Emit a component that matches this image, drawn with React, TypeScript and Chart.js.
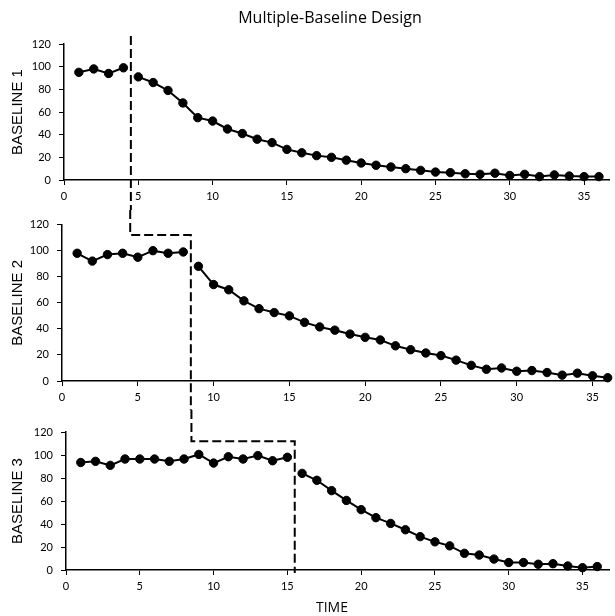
import React, { useEffect, useRef } from "react";
import { Chart, registerables } from "chart.js";

Chart.register(...registerables);

// ---------- data ----------
const chartTitle = "Multiple-Baseline Design";
const xAxisTitle = "TIME";
const panelLabels = ["BASELINE 1", "BASELINE 2", "BASELINE 3"];

const b1BaselineTime = [1, 2, 3, 4];
const b1BaselineValues = [95, 98, 94, 99];
const b1TreatTime = [5, 6, 7, 8, 9, 10, 11, 12, 13, 14, 15, 16, 17, 18, 19, 20, 21, 22, 23, 24, 25, 26, 27, 28, 29, 30, 31, 32, 33, 34, 35, 36];
const b1TreatValues = [91, 86, 79, 68, 55, 52, 45, 41, 36, 33, 27, 24, 21.5, 20, 17.5, 15, 13, 11.5, 10, 8.5, 7, 6.5, 5.5, 5, 6, 4, 5, 3, 4.5, 3.5, 3, 3];

const b2BaselineTime = [1, 2, 3, 4, 5, 6, 7, 8];
const b2BaselineValues = [98, 92, 97, 98, 95, 100, 98, 99];
const b2TreatTime = [9, 10, 11, 12, 13, 14, 15, 16, 17, 18, 19, 20, 21, 22, 23, 24, 25, 26, 27, 28, 29, 30, 31, 32, 33, 34, 35, 36];
const b2TreatValues = [88, 74, 70, 61.5, 55.5, 52.5, 50, 45, 41.5, 39, 36, 33.5, 31.5, 27, 24, 21.5, 19.5, 16, 12, 9, 10, 7.5, 8, 6.5, 4.5, 6, 4, 2.5];

const b3BaselineTime = [1, 2, 3, 4, 5, 6, 7, 8, 9, 10, 11, 12, 13, 14, 15];
const b3BaselineValues = [93.5, 94.5, 91, 96.5, 96.5, 96.5, 94.5, 96.5, 100.5, 93, 98.5, 96.5, 99.5, 95, 98];
const b3TreatTime = [16, 17, 18, 19, 20, 21, 22, 23, 24, 25, 26, 27, 28, 29, 30, 31, 32, 33, 34, 35, 36];
const b3TreatValues = [84, 78, 69, 60.5, 52.5, 45.5, 40.5, 35, 29, 24.5, 21, 14.5, 13, 9.5, 6.5, 6.5, 5, 5.5, 3.5, 2, 3];

const phaseChangeTimes = [4.5, 8.5, 15.5];
const phaseLineTopValue = 127;
const phaseStepValue = 112;

const yTickMin = 0;
const yTickMax = 120;
const yTickStep = 20;
const xTickStep = 5;

const series = [
  { bx: b1BaselineTime, by: b1BaselineValues, tx: b1TreatTime, ty: b1TreatValues },
  { bx: b2BaselineTime, by: b2BaselineValues, tx: b2TreatTime, ty: b2TreatValues },
  { bx: b3BaselineTime, by: b3BaselineValues, tx: b3TreatTime, ty: b3TreatValues },
];

// ---------- layout (not data) ----------
const W = 615;
const panelLayout = [
  { top: 0, height: 210, padTop: 44, axisW: 64, axisH: 30, xMax: 36.73 },
  { top: 210, height: 200, padTop: 13, axisW: 62, axisH: 29, xMax: 36.14 },
  { top: 410, height: 206, padTop: 22, axisW: 66, axisH: 46, xMax: 36.85 },
];

const tickFont = { family: "Lato, 'Open Sans', sans-serif", size: 11 };
const titleFont = { family: "'Liberation Sans', Arial, sans-serif", size: 15 };

function toPoints(xs: number[], ys: number[]) {
  return xs.map((x, i) => ({ x, y: ys[i] }));
}

function Panel({ index }: { index: number }) {
  const ref = useRef<HTMLCanvasElement | null>(null);
  useEffect(() => {
    const lay = panelLayout[index];
    const s = series[index];
    const phasePlugin = {
      id: "phaseLines" + index,
      afterDatasetsDraw(chart: any) {
        const { ctx, scales } = chart;
        const x = scales.x;
        const y = scales.y;
        ctx.save();
        ctx.strokeStyle = "#000";
        ctx.lineWidth = 2;
        ctx.setLineDash([9, 4]);
        ctx.beginPath();
        if (index === 0) {
          const px = x.getPixelForValue(phaseChangeTimes[0]);
          ctx.moveTo(px, y.getPixelForValue(phaseLineTopValue));
          ctx.lineTo(px, chart.height);
        } else {
          const p0 = x.getPixelForValue(phaseChangeTimes[index - 1]);
          const p1 = x.getPixelForValue(phaseChangeTimes[index]);
          const py = y.getPixelForValue(phaseStepValue);
          ctx.moveTo(p0, 0);
          ctx.lineTo(p0, py);
          ctx.lineTo(p1, py);
          ctx.lineTo(p1, index === 2 ? y.getPixelForValue(0) + 3 : chart.height);
        }
        ctx.stroke();
        ctx.restore();
      },
    };
    const dsCommon = {
      borderColor: "#000",
      backgroundColor: "#000",
      borderWidth: 2,
      pointRadius: 4.2,
      pointBorderWidth: 1,
      pointBackgroundColor: "#000",
      pointBorderColor: "#000",
      tension: 0,
      clip: false as any,
    };
    const chart = new Chart(ref.current as HTMLCanvasElement, {
      type: "line",
      data: {
        datasets: [
          { ...dsCommon, label: "baseline", data: toPoints(s.bx, s.by) },
          { ...dsCommon, label: "treatment", data: toPoints(s.tx, s.ty) },
        ],
      },
      options: {
        animation: false,
        responsive: false,
        layout: { padding: { top: lay.padTop, left: 0, right: 0, bottom: 0 } },
        plugins: { legend: { display: false }, tooltip: { enabled: false }, title: { display: false } },
        scales: {
          x: {
            type: "linear",
            min: 0,
            max: lay.xMax,
            afterFit: (sc: any) => {
              sc.height = lay.axisH;
            },
            ticks: { stepSize: xTickStep, includeBounds: false, color: "#000", font: tickFont, padding: 5, maxRotation: 0 },
            grid: { display: true, drawOnChartArea: false, drawTicks: true, tickLength: 5, color: "#000", lineWidth: 1 },
            border: { display: true, color: "#000", width: 1.5 },
          },
          y: {
            type: "linear",
            min: yTickMin,
            max: yTickMax,
            afterFit: (sc: any) => {
              sc.width = lay.axisW;
            },
            ticks: { stepSize: yTickStep, color: "#000", font: tickFont, padding: 8 },
            grid: { display: true, drawOnChartArea: false, drawTicks: true, tickLength: 5, color: "#000", lineWidth: 1 },
            border: { display: true, color: "#000", width: 1.5 },
            title: { display: true, text: panelLabels[index], color: "#000", font: titleFont, padding: { top: 9, bottom: 0 } },
          },
        },
      } as any,
      plugins: [phasePlugin],
    });
    return () => chart.destroy();
  }, [index]);
  const lay = panelLayout[index];
  return (
    <canvas
      ref={ref}
      width={W}
      height={lay.height}
      style={{ position: "absolute", left: 0, top: lay.top, width: W, height: lay.height, display: "block" }}
    />
  );
}

export default function App() {
  return (
    <div style={{ position: "absolute", left: 0, top: 0, width: W, height: 616, background: "#fff", overflow: "hidden" }}>
      {panelLabels.map((_, i) => (
        <Panel key={i} index={i} />
      ))}
      <div
        style={{
          position: "absolute",
          left: 180,
          width: 300,
          top: 6,
          textAlign: "center",
          fontFamily: "'Open Sans', sans-serif",
          fontSize: 16,
          lineHeight: "22px",
          color: "#000",
        }}
      >
        {chartTitle}
      </div>
      <div
        style={{
          position: "absolute",
          left: 282,
          width: 100,
          top: 596,
          textAlign: "center",
          fontFamily: "'Open Sans', sans-serif",
          fontSize: 14,
          lineHeight: "22px",
          color: "#000",
        }}
      >
        {xAxisTitle}
      </div>
    </div>
  );
}
